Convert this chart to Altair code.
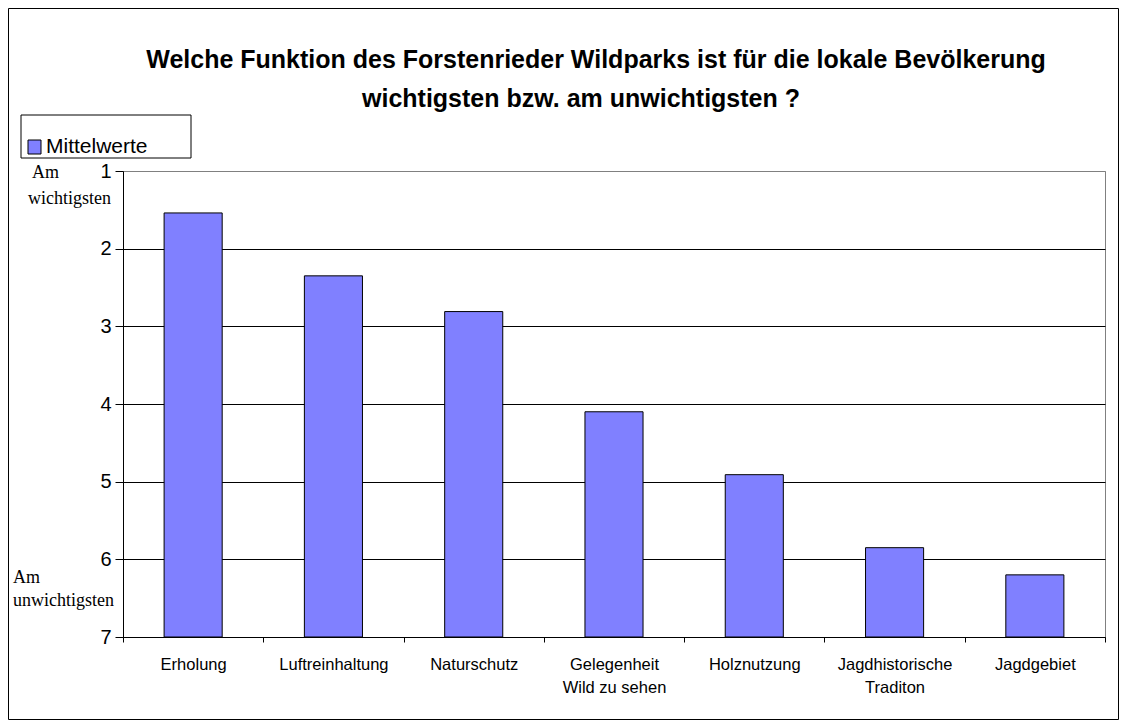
import altair as alt
import pandas as pd

categories = ["Erholung", "Luftreinhaltung", "Naturschutz", "Gelegenheit|Wild zu sehen",
              "Holznutzung", "Jagdhistorische|Traditon", "Jagdgebiet"]
values = [1.54, 2.35, 2.81, 4.10, 4.91, 5.85, 6.20]
y_ticks = [1, 2, 3, 4, 5, 6, 7]
title_lines = ["Welche Funktion des Forstenrieder Wildparks ist für die lokale Bevölkerung",
               "wichtigsten bzw. am unwichtigsten ?"]
legend_label = "Mittelwerte"
top_note = ["Am", "wichtigsten"]
bottom_note = ["Am", "unwichtigsten"]

SANS = "Liberation Sans"
SERIF = "Liberation Serif"
BAR = "#8080FF"

df = pd.DataFrame({"cat": categories, "val": values})
one = pd.DataFrame({"k": [0]})

base = alt.Chart(df)

bars = base.mark_bar(color=BAR, stroke="black", strokeWidth=1, width={"band": 0.414}).encode(
    x=alt.X("cat:N", sort=categories, title=None,
            scale=alt.Scale(paddingInner=0, paddingOuter=0),
            axis=alt.Axis(labelExpr="split(datum.label, '|')", labelAngle=0,
                          labelFont=SANS, labelFontSize=16.5, labelColor="black",
                          labelLineHeight=23, labelPadding=14, tickBand="extent",
                          tickSize=5, tickColor="black", domainColor="black",
                          labelBaseline="top")),
    y=alt.Y("val:Q", title=None,
            scale=alt.Scale(domain=[1, 7], reverse=True, nice=False, zero=False),
            axis=alt.Axis(values=y_ticks, format="d", labelFont=SANS, labelFontSize=20,
                          labelColor="black", tickSize=8, tickColor="black",
                          labelPadding=4, domainColor="black", grid=True,
                          gridColor={"condition": {"test": "datum.value === 1", "value": "#808080"},
                                     "value": "black"},
                          gridOpacity=1)),
    y2=alt.datum(7),
)

def text_layer(txt, x, y, size, font, bold=False, align="left"):
    return alt.Chart(pd.DataFrame({"t": [txt]})).mark_text(
        font=font, fontSize=size, fontWeight="bold" if bold else "normal",
        align=align, baseline="alphabetic", color="black"
    ).encode(text="t:N", x=alt.value(x), y=alt.value(y))

title1 = text_layer(title_lines[0], 473, -103, 25, SANS, bold=True, align="center")
title2 = text_layer(title_lines[1], 458, -64, 25, SANS, bold=True, align="center")

note1 = text_layer(top_note[0], -91, 7, 18, SERIF)
note2 = text_layer(top_note[1], -95, 33, 18, SERIF)
note3 = text_layer(bottom_note[0], -110, 412, 18, SERIF)
note4 = text_layer(bottom_note[1], -110, 435, 18, SERIF)

legend_box = alt.Chart(one).mark_rect(fill="white", stroke="black", strokeWidth=1).encode(
    x=alt.value(-102), x2=alt.value(68), y=alt.value(-56), y2=alt.value(-13))
legend_sq = alt.Chart(one).mark_rect(fill=BAR, stroke="black", strokeWidth=1).encode(
    x=alt.value(-95), x2=alt.value(-82), y=alt.value(-31), y2=alt.value(-17))
legend_txt = text_layer(legend_label, -77, -18, 21, SANS)

border = alt.Chart(one).mark_rect(fillOpacity=0, stroke="black", strokeWidth=1).encode(
    x=alt.value(-114.5), x2=alt.value(995.5), y=alt.value(-162.5), y2=alt.value(548.5))

chart = alt.layer(
    bars, title1, title2, note1, note2, note3, note4,
    legend_box, legend_sq, legend_txt, border
).properties(
    width=982, height=466,
    padding={"left": 115, "top": 163, "right": 14, "bottom": 83},
    autosize=alt.AutoSizeParams(type="none"),
    background="white",
).configure_view(stroke="#808080", strokeWidth=1)

chart.save("out.html", embed_options={"renderer": "svg", "actions": False})
